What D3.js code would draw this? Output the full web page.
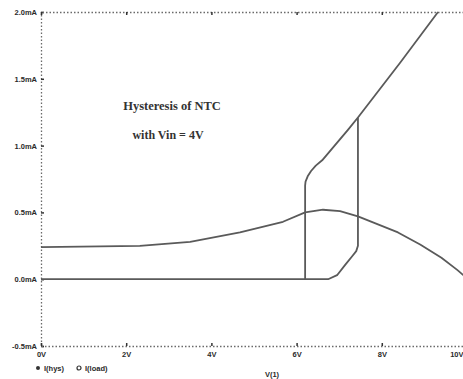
<!DOCTYPE html>
<html>
<head>
<meta charset="utf-8">
<script src="https://cdn.jsdelivr.net/npm/d3@7"></script>
<style>
  body { margin: 0; background: #fff; }
  .chart text { font-family: "Liberation Sans", Arial, sans-serif; font-weight: bold; fill: #2a2a2a; }
</style>
</head>
<body>
<div class="chart"></div>
<script>
// 画布大小
const width = 463
const height = 379

// 坐标轴刻度
const xTicks = [0, 2, 4, 6, 8, 10]
const yTicks = [-0.5, 0.0, 0.5, 1.0, 1.5, 2.0]

// I(hys) 上升扫描 (V, mA)
const hysUpV = [0, 6.74, 6.95, 7.14, 7.30, 7.40, 7.44, 7.44, 8.43, 9.32]
const hysUpI = [0, 0, 0.03, 0.107, 0.17, 0.21, 0.25, 1.21, 1.62, 2.0]

// I(hys) 下降扫描 (V, mA)
const hysDownV = [7.44, 7.21, 6.60, 6.45, 6.34, 6.26, 6.21, 6.20, 6.20]
const hysDownI = [1.21, 1.12, 0.89, 0.85, 0.81, 0.77, 0.73, 0.70, 0]

// I(load)
const loadV = [0, 2.32, 3.50, 4.67, 5.68, 6.20, 6.62, 7.02, 7.44, 8.38, 8.90, 9.40, 9.77, 9.95]
const loadI = [0.24, 0.25, 0.28, 0.35, 0.43, 0.50, 0.52, 0.51, 0.47, 0.35, 0.26, 0.16, 0.07, 0.02]

const LINE_COLOR = "#5a5a5a"
const AXIS_COLOR = "#6a6a6a"

const svg = d3.select(".chart").append("svg")
	.attr("width", width)
	.attr("height", height)

// 比例尺
const x = d3.scaleLinear().domain([0, 10]).range([41, 467])
const y = d3.scaleLinear().domain([-0.5, 2.0]).range([346, 12])

// 左轴
const yAxis = svg.append("g")
	.attr("transform", "translate(41,0)")
	.call(d3.axisLeft(y)
		.tickValues(yTicks)
		.tickFormat(d => d.toFixed(1) + "mA")
		.tickSize(-3)
		.tickPadding(4))
yAxis.selectAll("text").style("font-size", "7.5px")

// 底轴
const xAxis = svg.append("g")
	.attr("transform", "translate(0,346)")
	.call(d3.axisBottom(x)
		.tickValues(xTicks)
		.tickFormat(d => d + "V")
		.tickSize(-3)
		.tickPadding(6))
xAxis.selectAll("text").style("font-size", "7.5px")
// 最右的标签贴着右边缘放
xAxis.selectAll("text")
	.filter(d => d === 10)
	.attr("text-anchor", "end")
	.attr("x", -4)

// 顶边
const topAxis = svg.append("g")
	.attr("transform", "translate(0,12)")
	.call(d3.axisTop(x)
		.tickValues(xTicks)
		.tickFormat("")
		.tickSize(-3))

svg.selectAll(".domain")
	.attr("stroke", AXIS_COLOR)
	.attr("stroke-width", 1.3)
	.attr("stroke-dasharray", "1.5,2")
svg.selectAll(".tick line")
	.attr("stroke", "#333")
	.attr("stroke-width", 1.5)

// 曲线
const line = d3.line()
	.x(d => x(d[0]))
	.y(d => y(d[1]))

const series = [
	d3.zip(hysUpV, hysUpI),
	d3.zip(hysDownV, hysDownI),
	d3.zip(loadV, loadI)
]

svg.selectAll(".curve")
	.data(series)
	.enter()
	.append("path")
	.attr("class", "curve")
	.attr("d", line)
	.attr("fill", "none")
	.attr("stroke", LINE_COLOR)
	.attr("stroke-width", 1.8)
	.attr("stroke-linejoin", "round")

// 标题
svg.append("text")
	.attr("x", 172)
	.attr("y", 110)
	.attr("text-anchor", "middle")
	.style("font-family", "'Liberation Serif', 'Times New Roman', serif")
	.style("font-size", "12.5px")
	.style("fill", "#333")
	.text("Hysteresis of NTC")

svg.append("text")
	.attr("x", 168)
	.attr("y", 139)
	.attr("text-anchor", "middle")
	.style("font-family", "'Liberation Serif', 'Times New Roman', serif")
	.style("font-size", "12px")
	.style("fill", "#333")
	.text("with Vin = 4V")

// x 轴标题
svg.append("text")
	.attr("x", 272)
	.attr("y", 377)
	.attr("text-anchor", "middle")
	.style("font-size", "7.5px")
	.text("V(1)")

// 图例
const legend = svg.append("g")
	.attr("transform", "translate(38,368)")

legend.append("circle")
	.attr("r", 2)
	.attr("fill", "#333")
legend.append("text")
	.attr("x", 6)
	.attr("dy", "0.35em")
	.style("font-size", "7.5px")
	.text("I(hys)")

legend.append("circle")
	.attr("cx", 41)
	.attr("r", 2)
	.attr("fill", "none")
	.attr("stroke", "#333")
	.attr("stroke-width", 1.2)
legend.append("text")
	.attr("x", 47)
	.attr("dy", "0.35em")
	.style("font-size", "7.5px")
	.text("I(load)")
</script>
</body>
</html>
